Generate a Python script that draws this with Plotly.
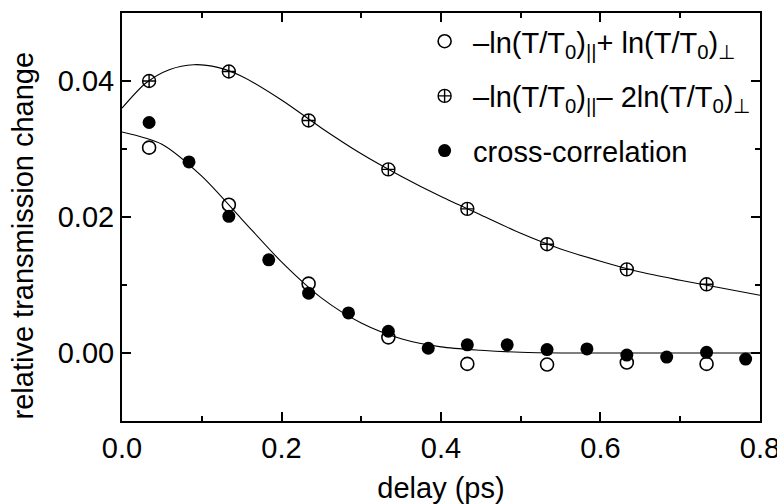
import plotly.graph_objects as go

# Measured points (delay in ps, relative transmission change)
delay_pol = [0.034, 0.134, 0.234, 0.334, 0.433, 0.533, 0.633, 0.733]
sum_par_perp = [0.0302, 0.0218, 0.0102, 0.0023, -0.0016, -0.0017, -0.0014, -0.0016]
diff_par_2perp = [0.0400, 0.0414, 0.0342, 0.0270, 0.0212, 0.0160, 0.0123, 0.0101]

delay_xc = [0.034, 0.084, 0.134, 0.184, 0.234, 0.284, 0.334, 0.384,
            0.433, 0.483, 0.533, 0.583, 0.633, 0.683, 0.733, 0.782]
cross_corr = [0.0339, 0.0281, 0.0201, 0.0137, 0.0088, 0.0059, 0.0032, 0.0007,
              0.0012, 0.0012, 0.0005, 0.0006, -0.0003, -0.0006, 0.0001, -0.0009]

# Fitted curves, sampled along delay
fit_delay_upper = [0.0, 0.03, 0.06, 0.09, 0.12, 0.15, 0.2, 0.25, 0.3, 0.35, 0.4,
                   0.45, 0.5, 0.55, 0.6, 0.65, 0.7, 0.75, 0.8]
fit_upper = [0.0360, 0.0397, 0.0417, 0.0424, 0.0420, 0.0407, 0.0372, 0.0331, 0.0293,
             0.0260, 0.0230, 0.0203, 0.0176, 0.0153, 0.0135, 0.0119, 0.0107, 0.0096, 0.0085]

fit_delay_lower = [0.0, 0.05, 0.1, 0.15, 0.2, 0.25, 0.3, 0.35, 0.4, 0.45, 0.5,
                   0.55, 0.6, 0.7, 0.8]
fit_lower = [0.0325, 0.0307, 0.0260, 0.0197, 0.0134, 0.0081, 0.0044, 0.0021, 0.0009,
             0.0004, 0.0001, 0.0, 0.0, 0.0, 0.0]

x_ticks = [0.0, 0.2, 0.4, 0.6, 0.8]
x_ticktext = ["0.0", "0.2", "0.4", "0.6", "0.8"]
y_ticks = [0.00, 0.02, 0.04]
y_ticktext = ["0.00", "0.02", "0.04"]

FONT = "Liberation Sans, Arial, sans-serif"
FS = 29

fig = go.Figure()

fig.add_trace(go.Scatter(x=fit_delay_upper, y=fit_upper, mode="lines",
                         line=dict(color="black", width=1.1, shape="spline", smoothing=0.8),
                         showlegend=False, hoverinfo="skip"))
fig.add_trace(go.Scatter(x=fit_delay_lower, y=fit_lower, mode="lines",
                         line=dict(color="black", width=1.1, shape="spline", smoothing=0.8),
                         showlegend=False, hoverinfo="skip"))

fig.add_trace(go.Scatter(
    x=delay_pol, y=sum_par_perp, mode="markers", legendgroup="a",
    name="–ln(T/T<sub>0</sub>)<sub>||</sub>+ ln(T/T<sub>0</sub>)<sub>⊥</sub>",
    marker=dict(symbol="circle-open", size=13, color="black", line=dict(width=1.6))))
fig.add_trace(go.Scatter(
    x=delay_pol, y=diff_par_2perp, mode="markers", legendgroup="b",
    name="–ln(T/T<sub>0</sub>)<sub>||</sub>– 2ln(T/T<sub>0</sub>)<sub>⊥</sub>",
    marker=dict(symbol="circle-cross-open", size=13, color="black", line=dict(width=1.4))))
fig.add_trace(go.Scatter(
    x=delay_xc, y=cross_corr, mode="markers", name="cross-correlation", legendgroup="c",
    marker=dict(symbol="circle", size=13, color="black")))

axis_common = dict(
    showgrid=False, zeroline=False, showline=True, linecolor="black", linewidth=2,
    mirror="allticks", ticks="inside", ticklen=9, tickwidth=1.5, tickcolor="black",
    tickfont=dict(family=FONT, size=FS, color="black"), automargin=False,
    ticklabeloverflow="allow",
)

fig.update_xaxes(range=[0, 0.80001], tickvals=x_ticks, ticktext=x_ticktext,
                 ticklabelstandoff=0,
                 minor=dict(ticks="inside", dtick=0.1, tick0=0, ticklen=5,
                            tickwidth=1.5, tickcolor="black"),
                 title=dict(text="delay (ps)", font=dict(family=FONT, size=FS, color="black"),
                            standoff=16),
                 **axis_common)
fig.update_yaxes(range=[-0.01, 0.05], tickvals=y_ticks, ticktext=y_ticktext,
                 minor=dict(ticks="inside", dtick=0.01, tick0=0, ticklen=5,
                            tickwidth=1.5, tickcolor="black"),
                 **axis_common)

# Vertical axis title, centred slightly below the middle of the frame
fig.add_annotation(text="relative transmission change", textangle=-90,
                   xref="paper", yref="paper", x=-0.156, y=0.456,
                   xanchor="center", yanchor="middle", showarrow=False,
                   font=dict(family=FONT, size=FS, color="black"))

fig.update_layout(
    width=777, height=504,
    margin=dict(l=122, r=17, t=13, b=83),
    paper_bgcolor="white", plot_bgcolor="white",
    font=dict(family=FONT, size=FS, color="black"),
    legend=dict(x=0.461, y=0.993, xanchor="left", yanchor="top",
                bgcolor="rgba(0,0,0,0)", borderwidth=0,
                font=dict(family=FONT, size=FS, color="black"),
                tracegroupgap=14, itemwidth=47),
)

fig.write_html("out.html")
